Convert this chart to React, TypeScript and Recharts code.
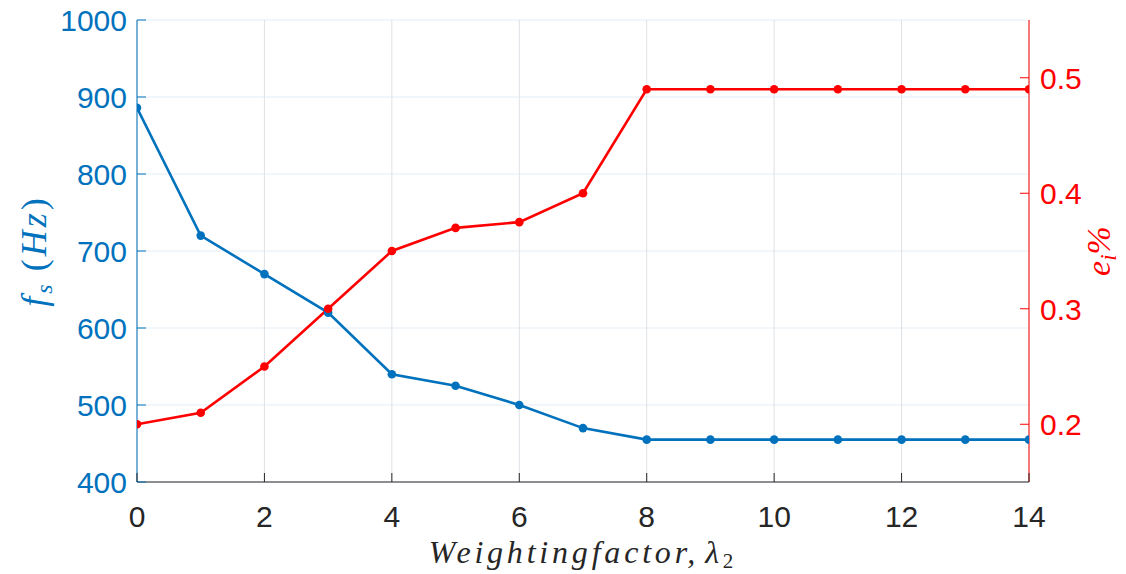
import React from 'react';
import { LineChart, Line, XAxis, YAxis, CartesianGrid } from 'recharts';

const lambda2 = [0, 1, 2, 3, 4, 5, 6, 7, 8, 9, 10, 11, 12, 13, 14];
const switchingFreq = [886, 720, 670, 620, 540, 525, 500, 470, 455, 455, 455, 455, 455, 455, 455];
const currentError = [0.2, 0.21, 0.25, 0.3, 0.35, 0.37, 0.375, 0.4, 0.49, 0.49, 0.49, 0.49, 0.49, 0.49, 0.49];

const xTicks = [0, 2, 4, 6, 8, 10, 12, 14];
const leftTicks = [400, 500, 600, 700, 800, 900, 1000];
const rightTicks = [0.2, 0.3, 0.4, 0.5];

const BLUE = '#0072BD';
const RED = '#FF0000';
const DARK = '#262626';
const TICK_FONT = "'Liberation Sans', Arial, sans-serif";
const MATH_FONT = "'Liberation Serif', 'DejaVu Serif', serif";

const data = lambda2.map((x, i) => ({ x, fs: switchingFreq[i], err: currentError[i] }));

const BottomTick = (props: any) => {
  const { x, y, payload } = props;
  return (
    <g>
      <line x1={x} y1={y} x2={x} y2={y - 9} stroke={DARK} strokeWidth={1} />
      <text x={x} y={y + 45} textAnchor="middle" fill={DARK} style={{ fontSize: 30, fontFamily: TICK_FONT }}>
        {payload.value}
      </text>
    </g>
  );
};

const TopTick = (props: any) => {
  const { x, y } = props;
  return <line x1={x} y1={y} x2={x} y2={y + 9} stroke={DARK} strokeWidth={1} />;
};

const LeftTick = (props: any) => {
  const { x, y, payload } = props;
  return (
    <g>
      <line x1={x} y1={y} x2={x + 9} y2={y} stroke={BLUE} strokeWidth={1} />
      <text x={x - 10} y={y + 11} textAnchor="end" fill={BLUE} style={{ fontSize: 30, fontFamily: TICK_FONT }}>
        {payload.value}
      </text>
    </g>
  );
};

const RightTick = (props: any) => {
  const { x, y, payload } = props;
  return (
    <g>
      <line x1={x} y1={y} x2={x - 9} y2={y} stroke={RED} strokeWidth={1} />
      <text x={x + 11} y={y + 11} textAnchor="start" fill={RED} style={{ fontSize: 30, fontFamily: TICK_FONT }}>
        {payload.value.toFixed(1)}
      </text>
    </g>
  );
};

const mathStyle = (size: number, extra: React.CSSProperties = {}): React.CSSProperties => ({
  fontFamily: MATH_FONT,
  fontStyle: 'italic',
  fontSize: size,
  ...extra,
});

const XTitle = (props: any) => {
  const vb = props.viewBox || { x: 137, y: 482, width: 892, height: 92 };
  const cx = vb.x + vb.width / 2;
  const cy = vb.y + 81;
  return (
    <text x={cx} y={cy} textAnchor="middle" fill={DARK} style={mathStyle(32, { letterSpacing: 3.8 })}>
      <tspan>Weightingfactor,</tspan>
      <tspan dx={6}>λ</tspan>
      <tspan dy={5} style={{ fontSize: 21, fontStyle: 'normal' }}>2</tspan>
    </text>
  );
};

const LeftTitle = (props: any) => {
  const vb = props.viewBox || { x: 0, y: 20, width: 137, height: 462 };
  const cx = vb.x + 46;
  const cy = vb.y + vb.height / 2;
  return (
    <text x={cx} y={cy} transform={`rotate(-90 ${cx} ${cy})`} textAnchor="middle" fill={BLUE} style={mathStyle(36, { letterSpacing: 3 })}>
      <tspan>f</tspan>
      <tspan dy={6} style={{ fontSize: 24 }}>s</tspan>
      <tspan dy={-6} dx={10} style={{ fontStyle: 'normal' }}>(</tspan>
      <tspan>Hz</tspan>
      <tspan style={{ fontStyle: 'normal' }}>)</tspan>
    </text>
  );
};

const RightTitle = (props: any) => {
  const vb = props.viewBox || { x: 1029, y: 20, width: 97, height: 462 };
  const cx = vb.x + 81;
  const cy = vb.y + vb.height / 2;
  return (
    <text x={cx} y={cy} transform={`rotate(-90 ${cx} ${cy})`} textAnchor="middle" fill={RED} style={mathStyle(34)}>
      <tspan>e</tspan>
      <tspan dy={6} style={{ fontSize: 23 }}>i</tspan>
      <tspan dy={-6}>%</tspan>
    </text>
  );
};

export default function App() {
  return (
    <div style={{ position: 'absolute', left: 0, top: 0, width: 1126, height: 574, background: '#fff' }}>
      <LineChart width={1126} height={574} data={data} margin={{ top: 20, right: 0, bottom: 0, left: 0 }}>
        <CartesianGrid yAxisId="left" vertical={false} stroke="#e3edf6" strokeWidth={1} />
        <CartesianGrid yAxisId="left" horizontal={false} stroke="#dfe1e5" strokeWidth={1} />
        <XAxis
          dataKey="x"
          type="number"
          domain={[0, 14]}
          ticks={xTicks}
          allowDataOverflow
          height={92}
          tickSize={0}
          tickMargin={0}
          tickLine={false}
          axisLine={{ stroke: DARK, strokeWidth: 1 }}
          tick={BottomTick}
          label={{ content: XTitle }}
        />
        <XAxis
          xAxisId="top"
          orientation="top"
          dataKey="x"
          type="number"
          domain={[0, 14]}
          ticks={xTicks}
          height={0}
          tickSize={0}
          tickMargin={0}
          tickLine={false}
          axisLine={{ stroke: DARK, strokeWidth: 1 }}
          tick={TopTick}
        />
        <YAxis
          yAxisId="left"
          domain={[400, 1000]}
          ticks={leftTicks}
          width={137}
          tickSize={0}
          tickMargin={0}
          tickLine={false}
          axisLine={{ stroke: BLUE, strokeWidth: 1 }}
          tick={LeftTick}
          label={{ content: LeftTitle }}
        />
        <YAxis
          yAxisId="right"
          orientation="right"
          domain={[0.15, 0.55]}
          ticks={rightTicks}
          allowDataOverflow
          width={97}
          tickSize={0}
          tickMargin={0}
          tickLine={false}
          axisLine={{ stroke: RED, strokeWidth: 1 }}
          tick={RightTick}
          label={{ content: RightTitle }}
        />
        <Line
          yAxisId="left"
          dataKey="fs"
          stroke={BLUE}
          strokeWidth={2.6}
          dot={{ r: 4.3, fill: BLUE, stroke: BLUE, strokeWidth: 0 }}
          isAnimationActive={false}
        />
        <Line
          yAxisId="right"
          dataKey="err"
          stroke={RED}
          strokeWidth={2.6}
          dot={{ r: 4.3, fill: RED, stroke: RED, strokeWidth: 0 }}
          isAnimationActive={false}
        />
      </LineChart>
    </div>
  );
}
